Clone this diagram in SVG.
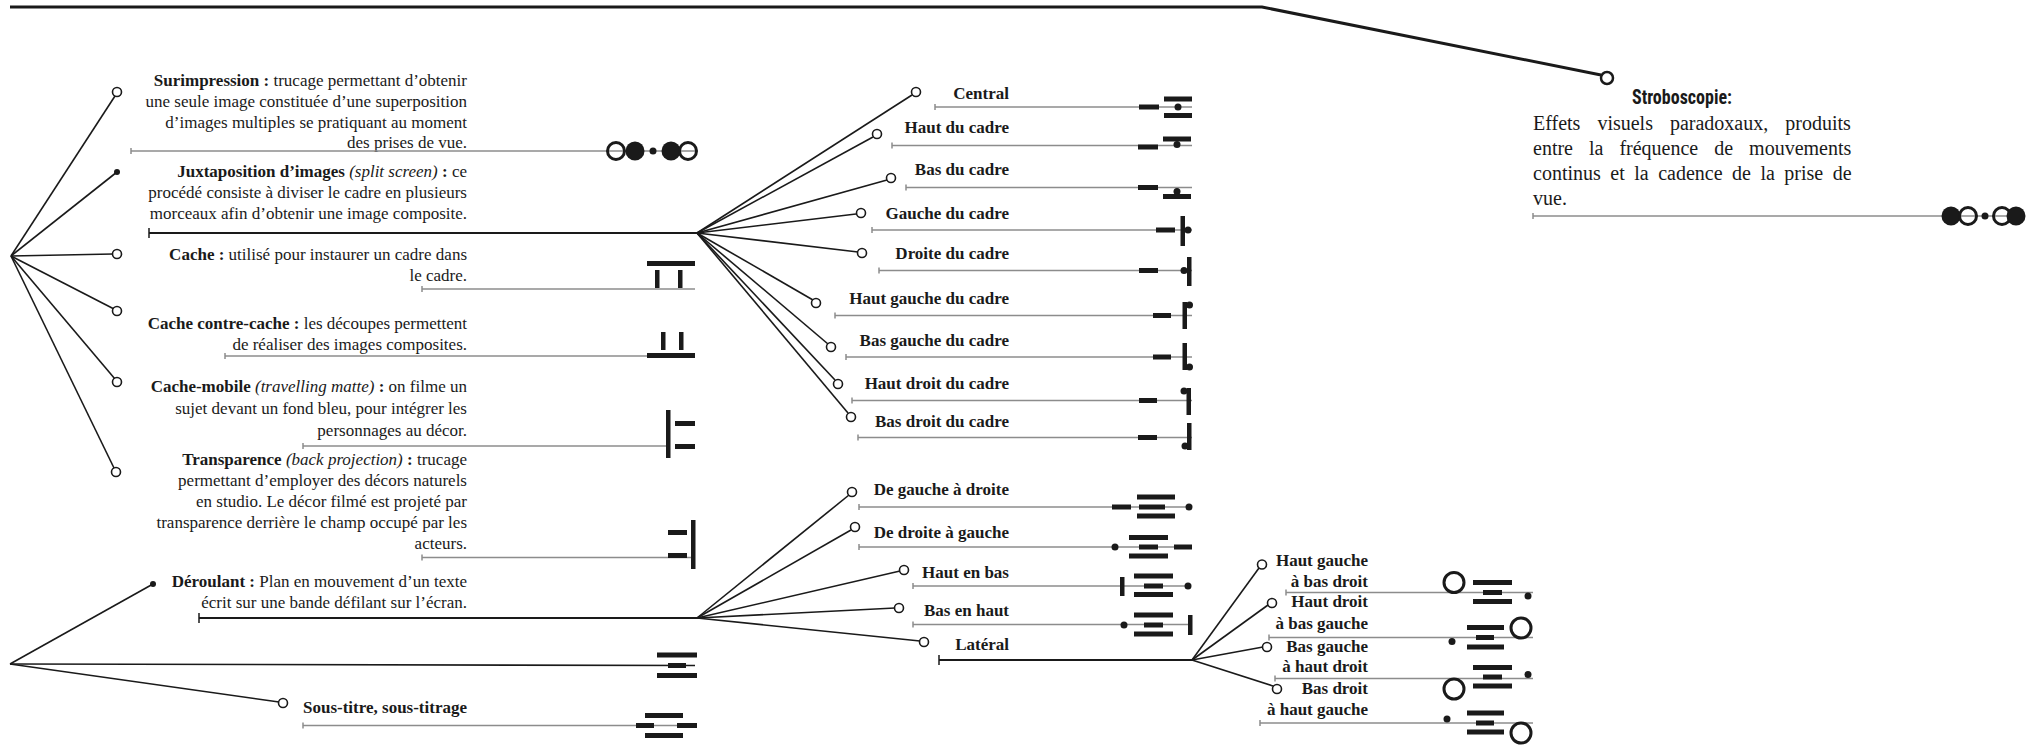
<svg xmlns="http://www.w3.org/2000/svg" width="2037" height="747" viewBox="0 0 2037 747">
<style>
.t{font-family:"Liberation Serif","Times New Roman",serif;font-size:17px;fill:#1a1a1a}
.b{font-weight:bold}
.i{font-style:italic}
.r{font-weight:normal}
.e{text-anchor:end}
.ul{stroke:#8c8c8c;stroke-width:1.5;fill:none}
.ud{stroke:#1a1a1a;stroke-width:2.2;fill:none}
.br{stroke:#1a1a1a;stroke-width:1.6;fill:none}
.oc{fill:#fff;stroke:#1a1a1a;stroke-width:1.6}
.fd{fill:#1a1a1a}
.bar{fill:#1a1a1a}
.ring{fill:none;stroke:#1a1a1a;stroke-width:3}
.sb{font-family:"Liberation Sans Narrow","Roboto Condensed","Liberation Sans",sans-serif;font-weight:bold;font-size:20px;fill:#1a1a1a}
.sv{font-family:"Liberation Serif","Times New Roman",serif;font-size:20px;fill:#1a1a1a}
</style>

<g id="connectors">
  <polyline class="ud" style="stroke-width:3" points="10,7 1262,7 1601,75"/>
  <line class="br" x1="11" y1="256" x2="115" y2="96"/>
  <line class="br" x1="11" y1="256" x2="117" y2="172"/>
  <line class="br" x1="11" y1="256" x2="113" y2="254"/>
  <line class="br" x1="11" y1="256" x2="114" y2="309"/>
  <line class="br" x1="11" y1="256" x2="115" y2="379"/>
  <line class="br" x1="11" y1="256" x2="114" y2="468"/>
  <line class="br" x1="10" y1="664" x2="153" y2="584"/>
  <line class="br" x1="10" y1="664" x2="695" y2="665.5"/>
  <line class="br" x1="10" y1="664" x2="279" y2="702"/>
  <line class="br" x1="697" y1="233" x2="912" y2="95"/>
  <line class="br" x1="697" y1="233" x2="873" y2="137"/>
  <line class="br" x1="697" y1="233" x2="887" y2="180"/>
  <line class="br" x1="697" y1="233" x2="856" y2="214"/>
  <line class="br" x1="697" y1="233" x2="858" y2="252"/>
  <line class="br" x1="697" y1="233" x2="813" y2="300"/>
  <line class="br" x1="697" y1="233" x2="828" y2="344"/>
  <line class="br" x1="697" y1="233" x2="835" y2="380"/>
  <line class="br" x1="697" y1="233" x2="848" y2="413"/>
  <line class="br" x1="697" y1="618" x2="849" y2="495"/>
  <line class="br" x1="697" y1="618" x2="851" y2="530"/>
  <line class="br" x1="697" y1="618" x2="900" y2="571"/>
  <line class="br" x1="697" y1="618" x2="895" y2="608"/>
  <line class="br" x1="697" y1="618" x2="920" y2="641"/>
  <line class="br" x1="1192" y1="660" x2="1259" y2="568"/>
  <line class="br" x1="1192" y1="660" x2="1268" y2="605"/>
  <line class="br" x1="1192" y1="660" x2="1263" y2="647"/>
  <line class="br" x1="1192" y1="660" x2="1273" y2="686"/>
</g>

<g id="stroboscopie">
  <circle class="oc" cx="1607" cy="78" r="6" style="stroke-width:2.5"/>
  <text class="sb" x="1682" y="104" text-anchor="middle" textLength="100" lengthAdjust="spacingAndGlyphs">Stroboscopie:</text>
  <text class="sv" x="1533" y="130" word-spacing="12">Effets visuels paradoxaux, produits</text>
  <text class="sv" x="1533" y="155" word-spacing="11">entre la fréquence de mouvements</text>
  <text class="sv" x="1533" y="180" word-spacing="4.5">continus et la cadence de la prise de</text>
  <text class="sv" x="1533" y="205">vue.</text>
  <line class="ul" x1="1533" y1="216" x2="2022" y2="216"/>
  <line class="ul" x1="1533" y1="213" x2="1533" y2="219"/>
  <circle class="fd" cx="1951" cy="216" r="9.5"/>
  <circle class="ring" cx="1968" cy="216" r="8.5"/>
  <circle class="fd" cx="1985" cy="216" r="3.5"/>
  <circle class="ring" cx="2002" cy="216" r="8.5"/>
  <circle class="fd" cx="2016" cy="216" r="9.5"/>
</g>

<g id="surimpression">
  <circle class="oc" cx="117" cy="92" r="4.5"/>
  <text class="t e" x="467"><tspan x="467" y="86" class="b">Surimpression :<tspan class="r"> trucage permettant d’obtenir</tspan></tspan><tspan x="467" y="107">une seule image constituée d’une superposition</tspan><tspan x="467" y="128">d’images multiples se pratiquant au moment</tspan><tspan x="467" y="148">des prises de vue.</tspan></text>
  <line class="ul" x1="131" y1="151" x2="697" y2="151"/>
  <line class="ul" x1="131" y1="148" x2="131" y2="154"/>
  <circle class="ring" cx="616" cy="151" r="8.5"/>
  <circle class="fd" cx="635" cy="151" r="9.5"/>
  <circle class="fd" cx="653" cy="151" r="3.5"/>
  <circle class="fd" cx="671" cy="151" r="9.5"/>
  <circle class="ring" cx="688" cy="151" r="8.5"/>
</g>

<g id="juxtaposition">
  <circle class="fd" cx="117" cy="172" r="3"/>
  <text class="t e" x="467"><tspan x="467" y="177"><tspan class="b">Juxtaposition d’images </tspan><tspan class="i">(split screen)</tspan><tspan class="b"> :</tspan> ce</tspan><tspan x="467" y="198">procédé consiste à diviser le cadre en plusieurs</tspan><tspan x="467" y="219">morceaux afin d’obtenir une image composite.</tspan></text>
  <line class="ud" x1="149" y1="233" x2="697" y2="233"/>
  <line class="ud" x1="149" y1="228" x2="149" y2="238" style="stroke-width:1.5"/>
</g>

<g id="cache">
  <circle class="oc" cx="117" cy="254" r="4.5"/>
  <text class="t e" x="467"><tspan x="467" y="260"><tspan class="b">Cache :</tspan> utilisé pour instaurer un cadre dans</tspan><tspan x="467" y="281">le cadre.</tspan></text>
  <line class="ul" x1="422" y1="289" x2="695" y2="289"/>
  <line class="ul" x1="422" y1="286" x2="422" y2="292"/>
  <rect class="bar" x="647" y="261" width="48" height="5"/>
  <rect class="bar" x="655" y="270" width="4.5" height="18"/>
  <rect class="bar" x="678" y="270" width="4.5" height="18"/>
</g>

<g id="cache-contre-cache">
  <circle class="oc" cx="117" cy="311" r="4.5"/>
  <text class="t e" x="467"><tspan x="467" y="329"><tspan class="b">Cache contre-cache :</tspan> les découpes permettent</tspan><tspan x="467" y="350">de réaliser des images composites.</tspan></text>
  <line class="ul" x1="225" y1="356" x2="695" y2="356"/>
  <line class="ul" x1="225" y1="353" x2="225" y2="359"/>
  <rect class="bar" x="661" y="332" width="4.5" height="18"/>
  <rect class="bar" x="679" y="332" width="4.5" height="18"/>
  <rect class="bar" x="647" y="353" width="48" height="5"/>
</g>

<g id="cache-mobile">
  <circle class="oc" cx="117" cy="382" r="4.5"/>
  <text class="t e" x="467"><tspan x="467" y="392"><tspan class="b">Cache-mobile </tspan><tspan class="i">(travelling matte)</tspan><tspan class="b"> :</tspan> on filme un</tspan><tspan x="467" y="414">sujet devant un fond bleu, pour intégrer les</tspan><tspan x="467" y="436">personnages au décor.</tspan></text>
  <line class="ul" x1="303" y1="446" x2="668" y2="446"/>
  <line class="ul" x1="303" y1="443" x2="303" y2="449"/>
  <rect class="bar" x="666" y="410" width="4.5" height="48"/>
  <rect class="bar" x="675" y="421" width="20" height="5"/>
  <rect class="bar" x="675" y="444" width="20" height="5"/>
</g>

<g id="transparence">
  <circle class="oc" cx="116" cy="472" r="4.5"/>
  <text class="t e" x="467"><tspan x="467" y="465"><tspan class="b">Transparence </tspan><tspan class="i">(back projection)</tspan><tspan class="b"> :</tspan> trucage</tspan><tspan x="467" y="486">permettant d’employer des décors naturels</tspan><tspan x="467" y="507">en studio. Le décor filmé est projeté par</tspan><tspan x="467" y="528">transparence derrière le champ occupé par les</tspan><tspan x="467" y="549">acteurs.</tspan></text>
  <line class="ul" x1="422" y1="557.5" x2="691" y2="557.5"/>
  <line class="ul" x1="422" y1="554.5" x2="422" y2="560.5"/>
  <rect class="bar" x="691" y="520" width="4.5" height="49"/>
  <rect class="bar" x="668" y="530" width="19" height="5"/>
  <rect class="bar" x="668" y="553" width="19" height="5"/>
</g>

<g id="deroulant">
  <circle class="fd" cx="153" cy="584" r="3"/>
  <text class="t e" x="467"><tspan x="467" y="587"><tspan class="b">Déroulant :</tspan> Plan en mouvement d’un texte</tspan><tspan x="467" y="608">écrit sur une bande défilant sur l’écran.</tspan></text>
  <line class="ud" x1="199" y1="618" x2="697" y2="618"/>
  <line class="ud" x1="199" y1="613" x2="199" y2="623" style="stroke-width:1.5"/>
</g>

<g id="texte-icone">
  <rect class="bar" x="657" y="652.5" width="40" height="5"/>
  <rect class="bar" x="668" y="663" width="18" height="5"/>
  <rect class="bar" x="657" y="673" width="40" height="5"/>
</g>

<g id="sous-titre">
  <circle class="oc" cx="283" cy="703" r="4.5"/>
  <text class="t b" x="303" y="713">Sous-titre, sous-titrage</text>
  <line class="ul" x1="303" y1="725.5" x2="697" y2="725.5"/>
  <line class="ul" x1="303" y1="722.5" x2="303" y2="728.5"/>
  <rect class="bar" x="645" y="713" width="38" height="5"/>
  <rect class="bar" x="636" y="723" width="18" height="5"/>
  <rect class="bar" x="677" y="723" width="20" height="5"/>
  <rect class="bar" x="645" y="733" width="38" height="5"/>
</g>

<g id="central">
  <circle class="oc" cx="916" cy="92" r="4.5"/>
  <text class="t b e" x="1009" y="99">Central</text>
  <line class="ul" x1="935" y1="107" x2="1192" y2="107"/>
  <line class="ul" x1="935" y1="104" x2="935" y2="110"/>
  <rect class="bar" x="1139" y="104.5" width="20" height="5"/>
  <rect class="bar" x="1164" y="96.5" width="28" height="5"/>
  <rect class="bar" x="1164" y="113" width="28" height="5"/>
  <circle class="fd" cx="1178" cy="107" r="3.5"/>
</g>
<g id="haut-du-cadre">
  <circle class="oc" cx="877" cy="134" r="4.5"/>
  <text class="t b e" x="1009" y="133">Haut du cadre</text>
  <line class="ul" x1="892" y1="145.5" x2="1192" y2="145.5"/>
  <line class="ul" x1="892" y1="142.5" x2="892" y2="148.5"/>
  <rect class="bar" x="1138" y="144.5" width="20" height="5"/>
  <rect class="bar" x="1163" y="136.5" width="28" height="5"/>
  <circle class="fd" cx="1177" cy="144.5" r="3.5"/>
</g>
<g id="bas-du-cadre">
  <circle class="oc" cx="891" cy="178" r="4.5"/>
  <text class="t b e" x="1009" y="175">Bas du cadre</text>
  <line class="ul" x1="906" y1="187.5" x2="1192" y2="187.5"/>
  <line class="ul" x1="906" y1="184.5" x2="906" y2="190.5"/>
  <rect class="bar" x="1138" y="185" width="20" height="5"/>
  <rect class="bar" x="1163" y="194" width="28" height="5"/>
  <circle class="fd" cx="1177" cy="191.5" r="3.5"/>
</g>
<g id="gauche-du-cadre">
  <circle class="oc" cx="861" cy="213" r="4.5"/>
  <text class="t b e" x="1009" y="219">Gauche du cadre</text>
  <line class="ul" x1="872" y1="230" x2="1192" y2="230"/>
  <line class="ul" x1="872" y1="227" x2="872" y2="233"/>
  <rect class="bar" x="1156" y="227.5" width="19" height="5"/>
  <rect class="bar" x="1180.5" y="216" width="4.5" height="30"/>
  <circle class="fd" cx="1188" cy="230" r="3.5"/>
</g>
<g id="droite-du-cadre">
  <circle class="oc" cx="862" cy="253" r="4.5"/>
  <text class="t b e" x="1009" y="259">Droite du cadre</text>
  <line class="ul" x1="879" y1="270.5" x2="1192" y2="270.5"/>
  <line class="ul" x1="879" y1="267.5" x2="879" y2="273.5"/>
  <rect class="bar" x="1139" y="268" width="19" height="5"/>
  <rect class="bar" x="1187" y="257" width="4.5" height="29"/>
  <circle class="fd" cx="1184" cy="270.5" r="3.5"/>
</g>
<g id="haut-gauche-du-cadre">
  <circle class="oc" cx="816" cy="303" r="4.5"/>
  <text class="t b e" x="1009" y="304">Haut gauche du cadre</text>
  <line class="ul" x1="835" y1="315.5" x2="1192" y2="315.5"/>
  <line class="ul" x1="835" y1="312.5" x2="835" y2="318.5"/>
  <rect class="bar" x="1153" y="313" width="18" height="5"/>
  <rect class="bar" x="1182.5" y="302" width="4.5" height="27"/>
  <circle class="fd" cx="1189.5" cy="305" r="3.5"/>
</g>
<g id="bas-gauche-du-cadre">
  <circle class="oc" cx="831" cy="347" r="4.5"/>
  <text class="t b e" x="1009" y="346">Bas gauche du cadre</text>
  <line class="ul" x1="846" y1="357" x2="1192" y2="357"/>
  <line class="ul" x1="846" y1="354" x2="846" y2="360"/>
  <rect class="bar" x="1153" y="354.5" width="18" height="5"/>
  <rect class="bar" x="1182.5" y="343" width="4.5" height="27"/>
  <circle class="fd" cx="1189.5" cy="367" r="3.5"/>
</g>
<g id="haut-droit-du-cadre">
  <circle class="oc" cx="838" cy="384" r="4.5"/>
  <text class="t b e" x="1009" y="389">Haut droit du cadre</text>
  <line class="ul" x1="852" y1="400.5" x2="1192" y2="400.5"/>
  <line class="ul" x1="852" y1="397.5" x2="852" y2="403.5"/>
  <rect class="bar" x="1139" y="398" width="18" height="5"/>
  <rect class="bar" x="1186.5" y="388" width="4.5" height="27"/>
  <circle class="fd" cx="1184" cy="391" r="3.5"/>
</g>
<g id="bas-droit-du-cadre">
  <circle class="oc" cx="851" cy="417" r="4.5"/>
  <text class="t b e" x="1009" y="427">Bas droit du cadre</text>
  <line class="ul" x1="858" y1="437.5" x2="1192" y2="437.5"/>
  <line class="ul" x1="858" y1="434.5" x2="858" y2="440.5"/>
  <rect class="bar" x="1138" y="435" width="19" height="5"/>
  <rect class="bar" x="1187" y="423" width="4.5" height="27"/>
  <circle class="fd" cx="1185" cy="446" r="3.5"/>
</g>

<g id="gauche-a-droite">
  <circle class="oc" cx="852" cy="492" r="4.5"/>
  <text class="t b e" x="1009" y="495">De gauche à droite</text>
  <line class="ul" x1="859" y1="507" x2="1189" y2="507"/>
  <line class="ul" x1="859" y1="504" x2="859" y2="510"/>
  <rect class="bar" x="1112" y="504.5" width="19" height="5"/>
  <rect class="bar" x="1137" y="494.5" width="38" height="5"/>
  <rect class="bar" x="1139" y="504.5" width="26" height="5"/>
  <rect class="bar" x="1137" y="513.5" width="38" height="5"/>
  <circle class="fd" cx="1189" cy="507" r="3.5"/>
</g>
<g id="droite-a-gauche">
  <circle class="oc" cx="855" cy="527" r="4.5"/>
  <text class="t b e" x="1009" y="538">De droite à gauche</text>
  <line class="ul" x1="859" y1="547" x2="1192" y2="547"/>
  <line class="ul" x1="859" y1="544" x2="859" y2="550"/>
  <circle class="fd" cx="1115" cy="547" r="3.5"/>
  <rect class="bar" x="1129" y="535" width="39" height="5"/>
  <rect class="bar" x="1139" y="544.5" width="19" height="5"/>
  <rect class="bar" x="1129" y="553.5" width="39" height="5"/>
  <rect class="bar" x="1174" y="544.5" width="18" height="5"/>
</g>
<g id="haut-en-bas">
  <circle class="oc" cx="904" cy="570" r="4.5"/>
  <text class="t b e" x="1009" y="578">Haut en bas</text>
  <line class="ul" x1="913" y1="586" x2="1188" y2="586"/>
  <line class="ul" x1="913" y1="583" x2="913" y2="589"/>
  <rect class="bar" x="1120" y="577" width="4.5" height="19"/>
  <rect class="bar" x="1134" y="573.5" width="39" height="5"/>
  <rect class="bar" x="1144" y="583.5" width="19" height="5"/>
  <rect class="bar" x="1134" y="592" width="39" height="5"/>
  <circle class="fd" cx="1188" cy="586" r="3.5"/>
</g>
<g id="bas-en-haut">
  <circle class="oc" cx="899" cy="608" r="4.5"/>
  <text class="t b e" x="1009" y="616">Bas en haut</text>
  <line class="ul" x1="913" y1="624.5" x2="1190" y2="624.5"/>
  <line class="ul" x1="913" y1="621.5" x2="913" y2="627.5"/>
  <circle class="fd" cx="1124" cy="625" r="3.5"/>
  <rect class="bar" x="1134" y="612.5" width="39" height="5"/>
  <rect class="bar" x="1144" y="622.5" width="19" height="5"/>
  <rect class="bar" x="1134" y="631.5" width="39" height="5"/>
  <rect class="bar" x="1188" y="615" width="4.5" height="20"/>
</g>
<g id="lateral">
  <circle class="oc" cx="924" cy="642" r="4.5"/>
  <text class="t b e" x="1009" y="650">Latéral</text>
  <line class="ud" x1="939" y1="660" x2="1192" y2="660"/>
  <line class="ud" x1="939" y1="655" x2="939" y2="665" style="stroke-width:1.5"/>
</g>

<g id="hg-bd">
  <circle class="oc" cx="1262" cy="564.5" r="4.5"/>
  <text class="t b e" x="1368"><tspan x="1368" y="566">Haut gauche</tspan><tspan x="1368" y="587">à bas droit</tspan></text>
  <line class="ul" x1="1286" y1="592.5" x2="1533" y2="592.5"/>
  <line class="ul" x1="1286" y1="589.5" x2="1286" y2="595.5"/>
  <circle class="ring" cx="1454" cy="582.5" r="10"/>
  <rect class="bar" x="1473" y="580" width="39" height="5"/>
  <rect class="bar" x="1483" y="590" width="19" height="5"/>
  <rect class="bar" x="1473" y="599" width="39" height="5"/>
  <circle class="fd" cx="1528" cy="596" r="3.5"/>
</g>
<g id="hd-bg">
  <circle class="oc" cx="1272" cy="603" r="4.5"/>
  <text class="t b e" x="1368"><tspan x="1368" y="607">Haut droit</tspan><tspan x="1368" y="629">à bas gauche</tspan></text>
  <line class="ul" x1="1269" y1="637.5" x2="1533" y2="637.5"/>
  <line class="ul" x1="1269" y1="634.5" x2="1269" y2="640.5"/>
  <circle class="fd" cx="1452" cy="641.5" r="3.5"/>
  <rect class="bar" x="1467" y="625" width="37" height="5"/>
  <rect class="bar" x="1476" y="635" width="18" height="5"/>
  <rect class="bar" x="1467" y="644.5" width="37" height="5"/>
  <circle class="ring" cx="1521" cy="628" r="10"/>
</g>
<g id="bg-hd">
  <circle class="oc" cx="1267" cy="647" r="4.5"/>
  <text class="t b e" x="1368"><tspan x="1368" y="652">Bas gauche</tspan><tspan x="1368" y="672">à haut droit</tspan></text>
  <line class="ul" x1="1275" y1="678.5" x2="1533" y2="678.5"/>
  <line class="ul" x1="1275" y1="675.5" x2="1275" y2="681.5"/>
  <rect class="bar" x="1473" y="665" width="39" height="5"/>
  <rect class="bar" x="1483" y="674.5" width="19" height="5"/>
  <rect class="bar" x="1473" y="683.5" width="39" height="5"/>
  <circle class="fd" cx="1528" cy="674.5" r="3.5"/>
  <circle class="ring" cx="1454" cy="689" r="10"/>
</g>
<g id="bd-hg">
  <circle class="oc" cx="1277" cy="689" r="4.5"/>
  <text class="t b e" x="1368"><tspan x="1368" y="694">Bas droit</tspan><tspan x="1368" y="715">à haut gauche</tspan></text>
  <line class="ul" x1="1260" y1="723" x2="1533" y2="723"/>
  <line class="ul" x1="1260" y1="720" x2="1260" y2="726"/>
  <circle class="fd" cx="1447" cy="719" r="3.5"/>
  <rect class="bar" x="1467" y="710.5" width="37" height="5"/>
  <rect class="bar" x="1476" y="720.5" width="18" height="5"/>
  <rect class="bar" x="1467" y="729.5" width="37" height="5"/>
  <circle class="ring" cx="1521" cy="733" r="10"/>
</g>
</svg>
